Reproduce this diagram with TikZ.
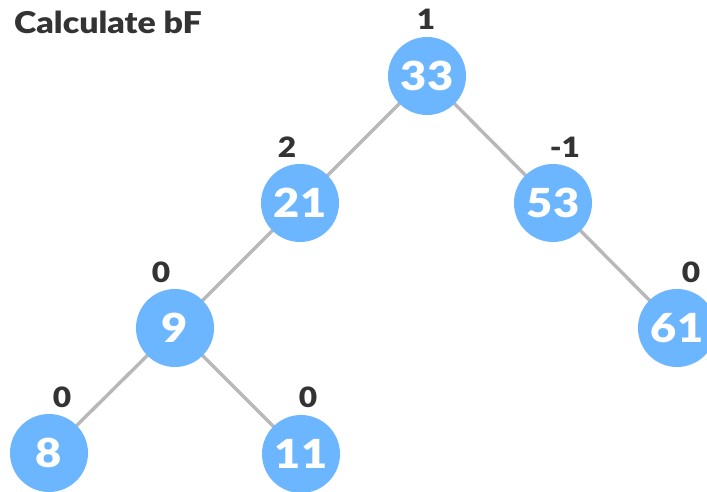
\documentclass[tikz,border=0pt]{standalone}
\usepackage{fontspec}
\setmainfont{Lato}
\newfontfamily\heavyfont[FakeStretch=1.13]{Lato Black}
\begin{document}
\begin{tikzpicture}[x=1pt,y=-1pt,
  treenode/.style={circle,fill=nodeblue,minimum size=78pt,inner sep=0pt,
    text=white,font=\fontsize{40}{40}\heavyfont},
  bflabel/.style={text=labelgray,font=\fontsize{28}{28}\heavyfont,inner sep=0pt},
  edge/.style={draw=edgegray,line width=3.4pt}]
\definecolor{nodeblue}{HTML}{6CB6FF}
\definecolor{edgegray}{HTML}{B8B8B8}
\definecolor{labelgray}{HTML}{333333}
\useasboundingbox (0,0) rectangle (707,491);
\fill[white] (0,0) rectangle (707,491);
% title
\node[anchor=base west,inner sep=0pt,text=labelgray,font=\fontsize{30}{30}\heavyfont] (title) at (14,33) {Calculate bF};
% connectors, drawn first so the nodes cover their ends
\coordinate (c33) at (427,76);
\coordinate (c21) at (300,203);
\coordinate (c53) at (553,203);
\coordinate (c9) at (175,328);
\coordinate (c61) at (677,328);
\coordinate (c8) at (49,453);
\coordinate (c11) at (301,454);
\draw[edge] (c33) -- (c21);
\draw[edge] (c33) -- (c53);
\draw[edge] (c21) -- (c9);
\draw[edge] (c53) -- (c61);
\draw[edge] (c9) -- (c8);
\draw[edge] (c9) -- (c11);
% tree nodes
\node[treenode] (n33) at (c33) {33};
\node[treenode] (n21) at (c21) {21};
\node[treenode] (n53) at (c53) {53};
\node[treenode] (n9) at (c9) {9};
\node[treenode] (n61) at (c61) {61};
\node[treenode] (n8) at (c8) {8};
\node[treenode] (n11) at (c11) {11};
% balance factors
\node[bflabel] (b33) at (426,19) {1};
\node[bflabel] (b21) at (287,147) {2};
\node[bflabel] (b53) at (565,147) {-1};
\node[bflabel] (b9) at (161,272) {0};
\node[bflabel] (b61) at (691,272) {0};
\node[bflabel] (b8) at (62,397) {0};
\node[bflabel] (b11) at (308,397) {0};
\end{tikzpicture}
\end{document}
